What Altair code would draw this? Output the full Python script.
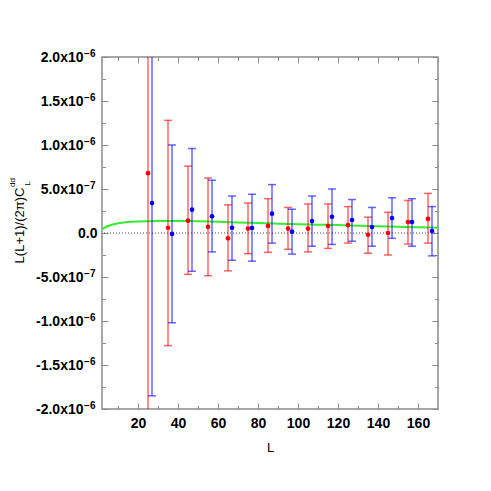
import altair as alt
import pandas as pd

# ---------------- data (values in units of 1e-6) ----------------
L_red = [25, 35, 45, 55, 65, 75, 85, 95, 105, 115, 125, 135, 145, 155, 165]
red_val = [0.68, 0.06, 0.14, 0.07, -0.06, 0.05, 0.08, 0.05, 0.05, 0.08, 0.09, -0.02, 0.0, 0.125, 0.16]
red_hi = [3.68, 1.28, 0.76, 0.625, 0.32, 0.34, 0.39, 0.29, 0.33, 0.33, 0.30, 0.18, 0.235, 0.37, 0.45]
red_lo = [-2.32, -1.28, -0.47, -0.485, -0.43, -0.235, -0.22, -0.185, -0.215, -0.175, -0.115, -0.23, -0.25, -0.125, -0.115]

L_blue = [27, 37, 47, 57, 67, 77, 87, 97, 107, 117, 127, 137, 147, 157, 167]
blue_val = [0.34, -0.01, 0.265, 0.19, 0.06, 0.057, 0.22, 0.015, 0.136, 0.185, 0.148, 0.068, 0.17, 0.125, 0.023]
blue_hi = [2.53, 1.0, 0.96, 0.60, 0.42, 0.44, 0.55, 0.27, 0.42, 0.50, 0.38, 0.29, 0.40, 0.39, 0.30]
blue_lo = [-1.85, -1.02, -0.435, -0.215, -0.31, -0.32, -0.115, -0.24, -0.15, -0.13, -0.094, -0.15, -0.06, -0.15, -0.26]

L_theory = [2, 5, 10, 15, 20, 30, 40, 50, 60, 70, 80, 90, 100, 110, 120, 130, 140, 150, 160, 170]
theory_val = [0.045, 0.08, 0.11, 0.125, 0.132, 0.136, 0.136, 0.134, 0.128, 0.12, 0.113, 0.106,
              0.10, 0.095, 0.09, 0.083, 0.077, 0.071, 0.065, 0.06]

x_major = [20, 40, 60, 80, 100, 120, 140, 160]
x_minor = [10, 20, 30, 40, 50, 60, 70, 80, 90, 100, 110, 120, 130, 140, 150, 160]
y_major = [-2.0, -1.5, -1.0, -0.5, 0.0, 0.5, 1.0, 1.5, 2.0]
y_minor = [-2.0, -1.75, -1.5, -1.25, -1.0, -0.75, -0.5, -0.25, 0.0, 0.25, 0.5, 0.75, 1.0, 1.25, 1.5, 1.75, 2.0]

U = 1e-6
red = pd.DataFrame({"L": L_red, "v": [a * U for a in red_val],
                    "lo": [a * U for a in red_lo], "hi": [a * U for a in red_hi]})
blue = pd.DataFrame({"L": L_blue, "v": [a * U for a in blue_val],
                     "lo": [a * U for a in blue_lo], "hi": [a * U for a in blue_hi]})
theory = pd.DataFrame({"L": L_theory, "v": [a * U for a in theory_val]})
zero = pd.DataFrame({"z": [0.0]})

W, H = 336, 352
FONT = "Liberation Sans"
TICK = "#8a8a8a"

xs = alt.Scale(domain=[2, 170], nice=False, zero=False)
ys = alt.Scale(domain=[-2e-6, 2e-6], nice=False, zero=False)

yv_major = [a * U for a in y_major]
yv_minor = [a * U for a in y_minor]
yv_lab = [a * U for a in y_major if a != 0.0]

# ---------------- axes ----------------
ax_x_labels = alt.Axis(orient="bottom", values=x_major, ticks=False, tickSize=0, domain=False,
                       grid=False, labelPadding=7, labelFont=FONT, labelFontWeight="bold",
                       labelFontSize=14, labelColor="black", title="L", titleFont=FONT,
                       titleFontSize=13, titleFontWeight="normal", titleColor="black", titleY=32)
ax_x_bot_major = alt.Axis(orient="top", offset=-H, values=x_major, tickSize=6, labels=False,
                          domain=False, grid=False, title=None, tickColor=TICK)
ax_x_bot_minor = alt.Axis(orient="top", offset=-H, values=x_minor, tickSize=3.5, labels=False,
                          domain=False, grid=False, title=None, tickColor=TICK)
ax_x_top_major = alt.Axis(orient="bottom", offset=-H, values=x_major, tickSize=6, labels=False,
                          domain=False, grid=False, title=None, tickColor=TICK)
ax_x_top_minor = alt.Axis(orient="bottom", offset=-H, values=x_minor, tickSize=3.5, labels=False,
                          domain=False, grid=False, title=None, tickColor=TICK)

ax_y_base = alt.Axis(orient="left", values=yv_lab, ticks=False, tickSize=0, domain=False, grid=False,
                     labelPadding=19, labelFont=FONT, labelFontWeight="bold", labelFontSize=14,
                     labelColor="black",
                     labelExpr="(datum.value < 0 ? '-' : '') + format(abs(datum.value) >= 0.9e-6 ? "
                               "abs(datum.value) * 1e6 : abs(datum.value) * 1e7, '.1f') + 'x10'",
                     title="L(L+1)/(2\u03c0)C", titleFont=FONT, titleFontSize=13,
                     titleFontWeight="normal", titleColor="black", titleAngle=270,
                     titleBaseline="alphabetic", titleX=-79, titleY=168)
ax_y_exp = alt.Axis(orient="left", values=yv_lab, ticks=False, tickSize=0, domain=False, grid=False,
                    labelPadding=7, labelOffset=-4, labelFont=FONT, labelFontWeight="bold",
                    labelFontSize=10, labelColor="black",
                    labelExpr="abs(datum.value) >= 0.9e-6 ? '\u22126' : '\u22127'", title=None)
ax_y_zero = alt.Axis(orient="left", values=[0.0], ticks=False, tickSize=0, domain=False, grid=False,
                     labelPadding=5, labelFont=FONT, labelFontWeight="bold", labelFontSize=14,
                     labelColor="black", labelExpr="'0.0'", title=None)
ax_y_left_major = alt.Axis(orient="right", offset=-W, values=yv_major, tickSize=6, labels=False,
                           domain=False, grid=False, title=None, tickColor=TICK)
ax_y_left_minor = alt.Axis(orient="right", offset=-W, values=yv_minor, tickSize=3.5, labels=False,
                           domain=False, grid=False, title=None, tickColor=TICK)
ax_y_right_major = alt.Axis(orient="left", offset=-W, values=yv_major, tickSize=6, labels=False,
                            domain=False, grid=False, title=None, tickColor=TICK)
ax_y_right_minor = alt.Axis(orient="left", offset=-W, values=yv_minor, tickSize=3.5, labels=False,
                            domain=False, grid=False, title=None, tickColor=TICK)


def X(axis=None, field="L"):
    if axis is None:
        return alt.X(f"{field}:Q", scale=xs, axis=None)
    return alt.X(f"{field}:Q", scale=xs, axis=axis)


def Y(field, axis=None):
    if axis is None:
        return alt.Y(f"{field}:Q", scale=ys, axis=None)
    return alt.Y(f"{field}:Q", scale=ys, axis=axis)


RED = "#ff0000"
BLUE = "#0000ff"

zero_line = alt.Chart(zero).mark_rule(color="#444444", strokeDash=[1, 2], strokeWidth=1).encode(
    y=Y("z"))

green = alt.Chart(theory).mark_line(color="#33ee33", strokeWidth=2, clip=True,
                                    interpolate="monotone").encode(
    x=X(ax_x_labels), y=Y("v", ax_y_base))

red_rule = alt.Chart(red).mark_rule(color=RED, opacity=0.75, strokeWidth=1.2, clip=True).encode(
    x=X(ax_x_bot_major), y=Y("lo", ax_y_exp), y2="hi:Q")
red_cap_lo = alt.Chart(red).mark_tick(color=RED, opacity=0.6, orient="horizontal", size=8,
                                      thickness=1.5, clip=True).encode(
    x=X(ax_x_bot_minor), y=Y("lo", ax_y_zero))
red_cap_hi = alt.Chart(red).mark_tick(color=RED, opacity=0.6, orient="horizontal", size=8,
                                      thickness=1.5, clip=True).encode(
    x=X(ax_x_top_major), y=Y("hi", ax_y_left_major))
red_pts = alt.Chart(red).mark_circle(color=RED, opacity=1, size=22, clip=True).encode(
    x=X(ax_x_top_minor), y=Y("v", ax_y_left_minor))

blue_rule = alt.Chart(blue).mark_rule(color=BLUE, opacity=0.75, strokeWidth=1.2, clip=True).encode(
    x=X(), y=Y("lo", ax_y_right_major), y2="hi:Q")
blue_cap_lo = alt.Chart(blue).mark_tick(color=BLUE, opacity=0.6, orient="horizontal", size=8,
                                        thickness=1.5, clip=True).encode(
    x=X(), y=Y("lo", ax_y_right_minor))
blue_cap_hi = alt.Chart(blue).mark_tick(color=BLUE, opacity=0.6, orient="horizontal", size=8,
                                        thickness=1.5, clip=True).encode(
    x=X(), y=Y("hi"))
blue_pts = alt.Chart(blue).mark_circle(color=BLUE, opacity=1, size=22, clip=True).encode(
    x=X(), y=Y("v"))

sup = alt.Chart(pd.DataFrame({"t": ["dd"]})).mark_text(
    angle=270, font=FONT, fontSize=8, align="center", baseline="middle", color="black").encode(
    x=alt.value(-89.5), y=alt.value(125.5), text="t:N")
sub = alt.Chart(pd.DataFrame({"t": ["L"]})).mark_text(
    angle=270, font=FONT, fontSize=8, align="center", baseline="middle", color="black").encode(
    x=alt.value(-74.5), y=alt.value(126.5), text="t:N")

chart = alt.layer(
    zero_line, green, red_rule, red_cap_lo, red_cap_hi, blue_rule, blue_cap_lo, blue_cap_hi,
    red_pts, blue_pts, sup, sub
).resolve_axis(x="independent", y="independent").properties(
    width=W, height=H,
    padding={"left": 94, "top": 49, "right": 40, "bottom": 50},
    autosize=alt.AutoSizeParams(type="none"),
).configure_view(stroke="#8a8a8a", strokeWidth=1.5).configure_axis(grid=False, domain=False)

chart.save("out.html", embed_options={"renderer": "svg", "actions": False})
